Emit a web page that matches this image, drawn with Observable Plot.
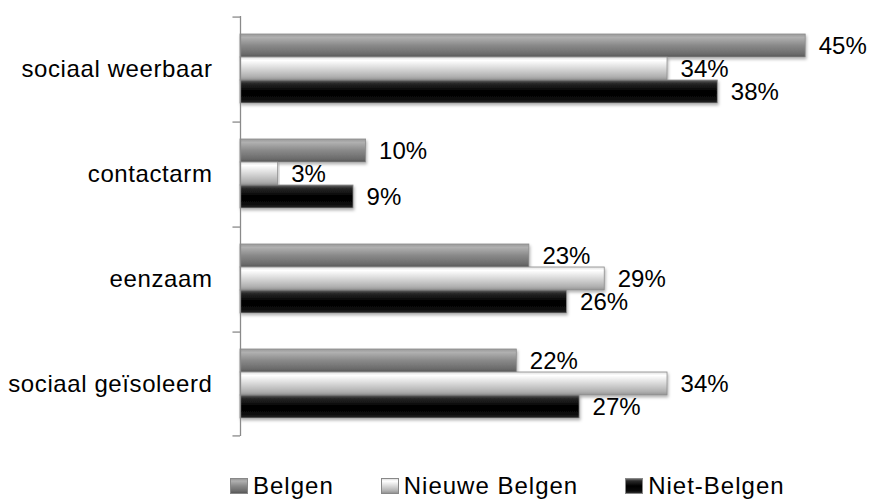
<!DOCTYPE html>
<html><head><meta charset="utf-8">
<script src="https://cdn.jsdelivr.net/npm/d3@7"></script>
<script src="https://cdn.jsdelivr.net/npm/@observablehq/plot@0.6"></script>
<style>
body{margin:0;background:#fff;font-family:"Liberation Sans",Arial,sans-serif}
#legend{display:flex;align-items:center;margin-left:230px;margin-top:17px;font-size:24px;line-height:28px;color:#000;letter-spacing:1px}
.item{display:flex;align-items:center;margin-right:47px}
.sw{width:18px;height:16px;margin-right:5px;box-sizing:border-box;border:1px solid #888}
#chart g[aria-label^="fy-axis"] text{letter-spacing:0.6px}
</style></head>
<body><div id="chart"></div><div id="legend"></div>
<script>
const categories = ["sociaal weerbaar", "contactarm", "eenzaam", "sociaal geïsoleerd"];
const seriesNames = ["Belgen", "Nieuwe Belgen", "Niet-Belgen"];
const belgen = [45, 10, 23, 22];
const nieuweBelgen = [34, 3, 29, 34];
const nietBelgen = [38, 9, 26, 27];

const seriesValues = [belgen, nieuweBelgen, nietBelgen];
const rows = categories.flatMap((c, i) => seriesNames.map((s, j) => ({cat: c, series: s, value: seriesValues[j][i]})));

const W = 871, H = 455, mt = 15, mb = 19, po = 0.72;
const facetH = (H - mt - mb) / categories.length;
const step = facetH / (seriesNames.length + 2 * po);
const edge = (po + 0.5) * step;
const gradIds = ["gB", "gN", "gX"];
const gradStops = [
  [[0, "#9a9a9a"], [0.15, "#b0b0b0"], [0.5, "#898989"], [0.85, "#6c6c6c"], [1, "#585858"]],
  [[0, "#e0e0e0"], [0.15, "#ffffff"], [0.5, "#d8d8d8"], [0.85, "#b0b0b0"], [1, "#949494"]],
  [[0, "#6a6a6a"], [0.14, "#2a2a2a"], [0.5, "#000000"], [0.85, "#0a0a0a"], [1, "#2e2e2e"]]
];

const chart = Plot.plot({
  width: W, height: H,
  marginLeft: 240, marginRight: 3, marginTop: mt, marginBottom: mb,
  style: {fontSize: "24px", fontFamily: "Liberation Sans, Arial, sans-serif", color: "#000", background: "#fff"},
  x: {domain: [0, 50], axis: null},
  y: {domain: seriesNames, axis: null, paddingInner: 0, paddingOuter: po},
  fy: {domain: categories, padding: 0, axis: "left", label: null, tickSize: 0, tickPadding: 28},
  color: {domain: seriesNames, range: gradIds.map(id => `url(#${id})`)},
  marks: [
    Plot.barX(rows, {x: "value", y: "series", fy: "cat", fill: "series", stroke: "#8c8c8c", strokeWidth: 0.8}),
    Plot.text(rows, {x: "value", y: "series", fy: "cat", text: d => d.value + "%", dx: 13, textAnchor: "start", fill: "#000"}),
    Plot.ruleX([0], {stroke: "#8a8a8a", strokeWidth: 1.3}),
    Plot.ruleY([seriesNames[0]], {x1: -0.6, x2: 0, dy: -edge, stroke: "#8a8a8a", strokeWidth: 1.3}),
    Plot.ruleY([{cat: categories[categories.length - 1], s: seriesNames[seriesNames.length - 1]}],
      {y: "s", fy: "cat", x1: -0.6, x2: 0, dy: edge, stroke: "#8a8a8a", strokeWidth: 1.3})
  ]
});

const svg = d3.select(chart);
const defs = svg.insert("defs", ":first-child");
gradIds.forEach((id, k) => {
  const g = defs.append("linearGradient").attr("id", id).attr("x1", 0).attr("y1", 0).attr("x2", 0).attr("y2", 1);
  gradStops[k].forEach(([o, c]) => g.append("stop").attr("offset", o).attr("stop-color", c));
});
const f = defs.append("filter").attr("id", "sh").attr("x", "-5%").attr("y", "-30%").attr("width", "110%").attr("height", "170%");
f.append("feDropShadow").attr("dx", 1).attr("dy", 2).attr("stdDeviation", 1.8).attr("flood-color", "#000").attr("flood-opacity", 0.3);
svg.selectAll('g[aria-label="bar"] rect').attr("filter", "url(#sh)");

document.getElementById("chart").appendChild(chart);

const legend = d3.select("#legend");
seriesNames.forEach((s, k) => {
  const st = gradStops[k].map(([o, c]) => `${c} ${o * 100}%`).join(",");
  const it = legend.append("div").attr("class", "item");
  it.append("div").attr("class", "sw").style("background", `linear-gradient(${st})`);
  it.append("span").text(s);
});
</script>
</body></html>
